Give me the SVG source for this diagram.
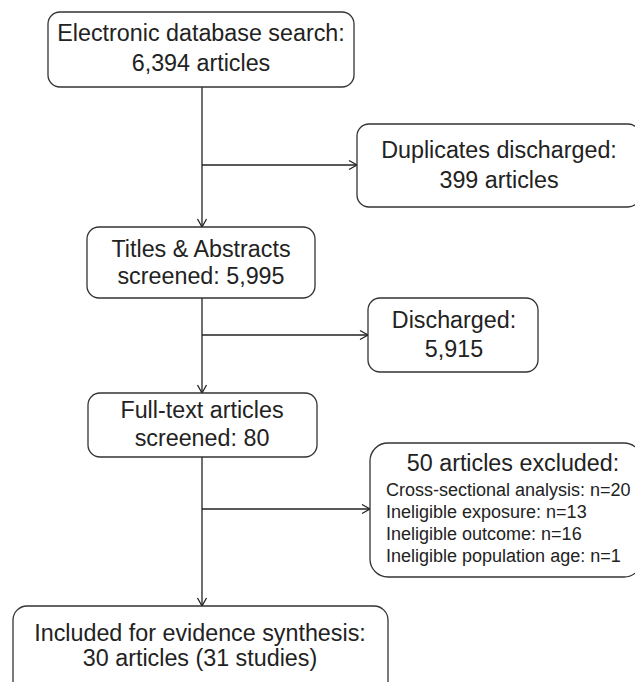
<svg xmlns="http://www.w3.org/2000/svg" width="635" height="682" viewBox="0 0 635 682">
<defs>
<marker id="arr" markerUnits="userSpaceOnUse" markerWidth="12" markerHeight="12" refX="10" refY="6" orient="auto">
<path d="M2,1.5 L10,6 L2,10.5" fill="none" stroke="#222" stroke-width="1.3"/>
</marker>
<style>
.box{fill:#fff;stroke:#333;stroke-width:1.3}
.t{font-family:"Liberation Sans",Arial,sans-serif;font-size:23.3px;fill:#222;text-anchor:middle}
.s{font-family:"Liberation Sans",Arial,sans-serif;font-size:18px;fill:#222}
.c{fill:none;stroke:#222;stroke-width:1.3}
</style>
</defs>
<rect width="635" height="682" fill="#fff"/>
<g id="connectors">
<line class="c" x1="202" y1="87" x2="202" y2="227" marker-end="url(#arr)"/>
<line class="c" x1="202" y1="165" x2="357" y2="165" marker-end="url(#arr)"/>
<line class="c" x1="202" y1="298" x2="202" y2="393" marker-end="url(#arr)"/>
<line class="c" x1="202" y1="335" x2="368" y2="335" marker-end="url(#arr)"/>
<line class="c" x1="202" y1="457" x2="202" y2="606" marker-end="url(#arr)"/>
<line class="c" x1="202" y1="509" x2="370" y2="509" marker-end="url(#arr)"/>
</g>
<g id="search">
<rect class="box" x="48" y="12" width="306" height="75" rx="12"/>
<text class="t" x="201" y="41">Electronic database search:</text>
<text class="t" x="201" y="71">6,394 articles</text>
</g>
<g id="duplicates">
<rect class="box" x="357" y="124" width="283" height="83" rx="12"/>
<text class="t" x="499" y="158">Duplicates discharged:</text>
<text class="t" x="499" y="188">399 articles</text>
</g>
<g id="titles">
<rect class="box" x="87" y="227" width="228" height="71" rx="12"/>
<text class="t" x="201" y="257">Titles &amp; Abstracts</text>
<text class="t" x="201" y="284">screened: 5,995</text>
</g>
<g id="discharged">
<rect class="box" x="368" y="298" width="170" height="74" rx="12"/>
<text class="t" x="454" y="328">Discharged:</text>
<text class="t" x="454" y="357">5,915</text>
</g>
<g id="fulltext">
<rect class="box" x="88" y="393" width="229" height="64" rx="12"/>
<text class="t" x="202" y="418">Full-text articles</text>
<text class="t" x="202" y="446">screened: 80</text>
</g>
<g id="excluded">
<rect class="box" x="370" y="443" width="272" height="134" rx="18"/>
<text class="t" x="513" y="471">50 articles excluded:</text>
<text class="s" x="386" y="496">Cross-sectional analysis: n=20</text>
<text class="s" x="386" y="518">Ineligible exposure: n=13</text>
<text class="s" x="386" y="540">Ineligible outcome: n=16</text>
<text class="s" x="386" y="562">Ineligible population age: n=1</text>
</g>
<g id="included">
<rect class="box" x="13" y="606" width="375" height="90" rx="14"/>
<text class="t" x="200" y="641">Included for evidence synthesis:</text>
<text class="t" x="200" y="666">30 articles (31 studies)</text>
</g>
</svg>
